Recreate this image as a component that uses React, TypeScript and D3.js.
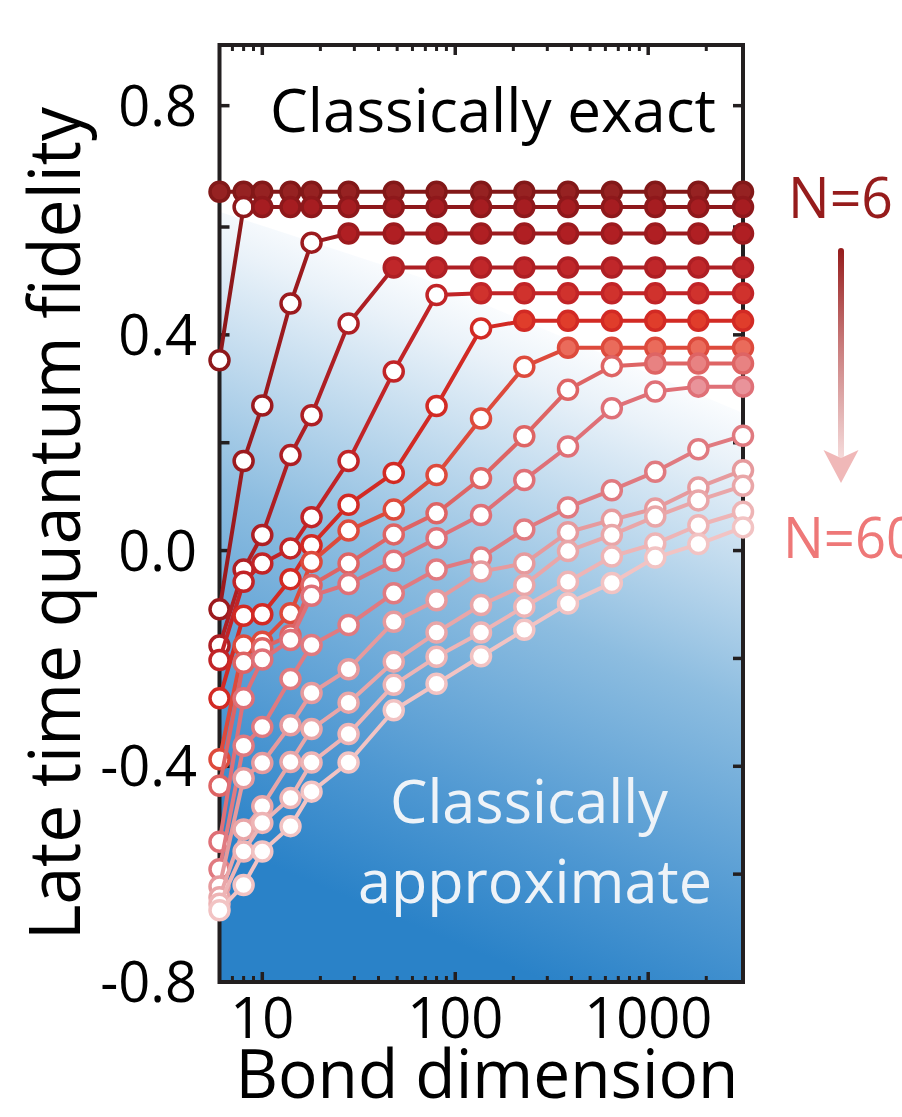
import React from 'react';
import * as d3 from 'd3';

// ---------- data ----------
const bondDimensions = [6, 8, 10, 14, 18, 28, 48, 80, 136, 228, 384, 648, 1088, 1820, 3100];

const fidN6 = [0.658, 0.658, 0.658, 0.658, 0.658, 0.658, 0.658, 0.658, 0.658, 0.658, 0.658, 0.658, 0.658, 0.658, 0.658];
const fidS1 = [0.353, 0.633, 0.633, 0.633, 0.633, 0.633, 0.633, 0.633, 0.633, 0.633, 0.633, 0.633, 0.633, 0.633, 0.633];
const fidS2 = [-0.109, 0.166, 0.269, 0.458, 0.571, 0.588, 0.588, 0.588, 0.588, 0.588, 0.588, 0.588, 0.588, 0.588, 0.588];
const fidS3 = [-0.176, -0.035, 0.029, 0.177, 0.251, 0.421, 0.525, 0.525, 0.525, 0.525, 0.525, 0.525, 0.525, 0.525, 0.525];
const fidS4 = [-0.203, -0.058, -0.024, 0.004, 0.062, 0.166, 0.332, 0.474, 0.477, 0.477, 0.477, 0.477, 0.477, 0.477, 0.477];
const fidS5 = [-0.274, -0.121, -0.118, -0.053, 0.010, 0.085, 0.144, 0.268, 0.412, 0.426, 0.426, 0.426, 0.426, 0.426, 0.426];
const fidS6 = [-0.387, -0.176, -0.169, -0.116, -0.021, 0.037, 0.076, 0.140, 0.245, 0.341, 0.376, 0.376, 0.376, 0.376, 0.376];
const fidS7 = [-0.436, -0.208, -0.181, -0.157, -0.064, -0.024, 0.030, 0.069, 0.134, 0.212, 0.298, 0.342, 0.347, 0.347, 0.347];
const fidS8 = [-0.540, -0.274, -0.202, -0.166, -0.084, -0.062, -0.019, 0.023, 0.066, 0.131, 0.193, 0.264, 0.295, 0.304, 0.304];
const fidS9 = [-0.591, -0.362, -0.327, -0.238, -0.175, -0.138, -0.079, -0.035, -0.013, 0.039, 0.080, 0.112, 0.146, 0.188, 0.213];
const fidS10 = [-0.623, -0.422, -0.394, -0.324, -0.264, -0.220, -0.132, -0.092, -0.039, -0.024, 0.034, 0.057, 0.078, 0.117, 0.149];
const fidS11 = [-0.643, -0.517, -0.474, -0.392, -0.331, -0.282, -0.206, -0.152, -0.101, -0.064, -0.001, 0.029, 0.063, 0.093, 0.120];
const fidS12 = [-0.655, -0.558, -0.505, -0.459, -0.393, -0.340, -0.249, -0.197, -0.152, -0.104, -0.058, -0.011, 0.013, 0.047, 0.072];
const fidN60 = [-0.667, -0.620, -0.558, -0.511, -0.447, -0.393, -0.296, -0.247, -0.196, -0.147, -0.098, -0.060, -0.013, 0.012, 0.043];

const seriesList = [fidN6, fidS1, fidS2, fidS3, fidS4, fidS5, fidS6, fidS7, fidS8, fidS9, fidS10, fidS11, fidS12, fidN60];
// index of first bond dimension at which the series is exact (filled marker)
const exactFromIndex = [0, 2, 5, 6, 8, 9, 10, 12, 13, 15, 15, 15, 15, 15];

const strokeColors = ['#821818', '#8e181b', '#9c1a1e', '#ae1f24', '#c12427', '#d22a24', '#dd4a3c', '#de6464', '#df7077', '#e07a80', '#e69a9d', '#e9a6a8', '#eeb4b5', '#f2c3c3'];
const fillColors = ['#962222', '#a61d21', '#b01f23', '#c0272a', '#d0322d', '#e03d2b', '#ea6b5b', '#e88282', '#e9939a', '#ffffff', '#ffffff', '#ffffff', '#ffffff', '#ffffff'];

const yTickValues = [-0.8, -0.6, -0.4, -0.2, 0, 0.2, 0.4, 0.6, 0.8];
const yLabelValues = [-0.8, -0.4, 0, 0.4, 0.8];
const yLabelTexts = ['-0.8', '-0.4', '0.0', '0.4', '0.8'];
const xMajorTicks = [10, 100, 1000];
const xMajorLabels = ['10', '100', '1000'];
const xMinorTicks = [7, 8, 9, 20, 30, 40, 50, 60, 70, 80, 90, 200, 300, 400, 500, 600, 700, 800, 900, 2000];

// boundary of the "classically exact" (white) region, in data space
const boundaryX = [6, 66, 3100];
const boundaryY = [0.625, 0.507, 0.255];

const W = 902;
const H = 1117;
const plot = { left: 219.5, right: 743, top: 45, bottom: 982 };
const FONT = "'Open Sans', 'Noto Sans', sans-serif";

export default function App() {
  const x = d3.scaleLog().domain([6, 3100]).range([plot.left, plot.right]);
  const y = d3.scaleLinear().domain([-0.8, 0.6, 0.9]).range([plot.bottom, 227, plot.top]);

  const line = d3
    .line<[number, number]>()
    .x((d) => x(d[0]))
    .y((d) => y(d[1]));

  // background polygon
  const bPts: [number, number][] = boundaryX.map((bx, i) => [x(bx), y(boundaryY[i])]);
  const bgPoly = [...bPts, [plot.right, plot.bottom], [plot.left, plot.bottom]] as [number, number][];
  const bgPath = 'M' + bgPoly.map((p) => p.join(',')).join('L') + 'Z';
  // gradient perpendicular to boundary
  const p0 = bPts[1];
  const dx = bPts[2][0] - bPts[1][0];
  const dy = bPts[2][1] - bPts[1][1];
  const len = Math.hypot(dx, dy);
  const nx = -dy / len;
  const ny = dx / len;
  const p1 = [p0[0] + nx * 600, p0[1] + ny * 600];

  const majorLen = 10;
  const minorLen = 6;
  const frameColor = '#231f20';

  return (
    <svg width={W} height={H} style={{ position: 'absolute', left: 0, top: 0, background: '#fff' }} fontFamily={FONT}>
      <defs>
        <linearGradient id="bgGrad" gradientUnits="userSpaceOnUse" x1={p0[0]} y1={p0[1]} x2={p1[0]} y2={p1[1]}>
          <stop offset="0" stopColor="#fafcfe" />
          <stop offset="0.08" stopColor="#eaf2f9" />
          <stop offset="0.45" stopColor="#8dbde0" />
          <stop offset="0.78" stopColor="#4f98d2" />
          <stop offset="1" stopColor="#2a82c8" />
        </linearGradient>
        <linearGradient id="arrowGrad" gradientUnits="userSpaceOnUse" x1="0" y1="248" x2="0" y2="460">
          <stop offset="0" stopColor="#951c1c" />
          <stop offset="0.45" stopColor="#c87a7a" />
          <stop offset="1" stopColor="#f6dcdc" />
        </linearGradient>
        <clipPath id="plotClip">
          <rect x={plot.left} y={plot.top} width={plot.right - plot.left} height={plot.bottom - plot.top} />
        </clipPath>
      </defs>

      {/* background */}
      <rect x={0} y={0} width={W} height={H} fill="#ffffff" />
      <path d={bgPath} fill="url(#bgGrad)" clipPath="url(#plotClip)" />

      {/* region annotations */}
      <text x={493} y={131.5} fontSize={61} fill="#000" textAnchor="middle" textLength={446} lengthAdjust="spacingAndGlyphs">
        Classically exact
      </text>
      <text x={529} y={823} fontSize={60} fill="#eef3f8" textAnchor="middle" textLength={278} lengthAdjust="spacingAndGlyphs">
        Classically
      </text>
      <text x={535} y={903} fontSize={60} fill="#eef3f8" textAnchor="middle" textLength={354} lengthAdjust="spacingAndGlyphs">
        approximate
      </text>

      {/* frame */}
      <rect x={plot.left} y={plot.top} width={plot.right - plot.left} height={plot.bottom - plot.top} fill="none" stroke={frameColor} strokeWidth={4} />

      {/* y ticks */}
      {yTickValues.map((v) => (
        <g key={'yt' + v}>
          <line x1={plot.left} x2={plot.left + majorLen} y1={y(v)} y2={y(v)} stroke={frameColor} strokeWidth={3.5} />
          <line x1={plot.right} x2={plot.right - majorLen} y1={y(v)} y2={y(v)} stroke={frameColor} strokeWidth={3.5} />
        </g>
      ))}
      {yLabelValues.map((v, i) => (
        <text key={'yl' + v} x={197} y={y(v)} dy="0.36em" fontSize={56} textAnchor="end" fill="#000">
          {yLabelTexts[i]}
        </text>
      ))}

      {/* x ticks */}
      {xMajorTicks.map((v) => (
        <g key={'xt' + v}>
          <line x1={x(v)} x2={x(v)} y1={plot.bottom} y2={plot.bottom - majorLen} stroke={frameColor} strokeWidth={3.5} />
          <line x1={x(v)} x2={x(v)} y1={plot.top} y2={plot.top + majorLen} stroke={frameColor} strokeWidth={3.5} />
        </g>
      ))}
      {xMinorTicks.map((v) => (
        <g key={'xm' + v}>
          <line x1={x(v)} x2={x(v)} y1={plot.bottom} y2={plot.bottom - minorLen} stroke={frameColor} strokeWidth={3} />
          <line x1={x(v)} x2={x(v)} y1={plot.top} y2={plot.top + minorLen} stroke={frameColor} strokeWidth={3} />
        </g>
      ))}
      {xMajorTicks.map((v, i) => (
        <text key={'xl' + v} x={x(v)} y={1038} fontSize={56} textAnchor="middle" fill="#000">
          {xMajorLabels[i]}
        </text>
      ))}

      {/* axis titles */}
      <text x={487} y={1098} fontSize={67} textAnchor="middle" fill="#000" textLength={503} lengthAdjust="spacingAndGlyphs">
        Bond dimension
      </text>
      <text
        transform={`translate(80, 523.5) rotate(-90)`}
        fontSize={72}
        textAnchor="middle"
        fill="#000"
        textLength={833}
        lengthAdjust="spacingAndGlyphs"
      >
        Late time quantum fidelity
      </text>

      {/* series */}
      {seriesList.map((vals, si) => {
        const pts = bondDimensions.map((b, i) => [b, vals[i]] as [number, number]);
        return (
          <g key={'s' + si}>
            <path d={line(pts) || ''} fill="none" stroke={strokeColors[si]} strokeWidth={4} strokeLinejoin="round" />
            {pts.map((p, i) => {
              const filled = i >= exactFromIndex[si];
              return (
                <circle
                  key={i}
                  cx={x(p[0])}
                  cy={y(p[1])}
                  r={9.5}
                  fill={filled ? fillColors[si] : '#ffffff'}
                  stroke={strokeColors[si]}
                  strokeWidth={3.5}
                />
              );
            })}
          </g>
        );
      })}

      {/* N labels and arrow */}
      <text x={788} y={218} fontSize={56} fill="#961c1c" textLength={105} lengthAdjust="spacingAndGlyphs">
        N=6
      </text>
      <text x={783} y={558} fontSize={56} fill="#ee7878" textLength={134} lengthAdjust="spacingAndGlyphs">
        N=60
      </text>
      <rect x={838} y={248} width={6} height={210} rx={3} fill="url(#arrowGrad)" />
      <path d="M823.5,450 L841,458 L858.5,450 L841,483 Z" fill="#f0b8b8" />
    </svg>
  );
}
